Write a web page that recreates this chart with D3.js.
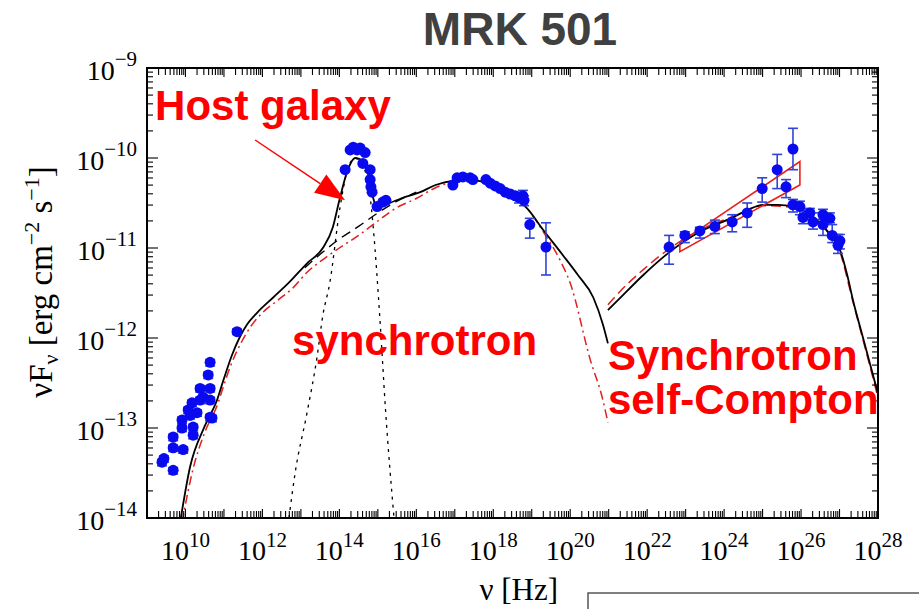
<!DOCTYPE html>
<html><head><meta charset="utf-8">
<script src="https://cdn.jsdelivr.net/npm/d3@7"></script>
<style>body{margin:0;background:#fff}</style>
</head><body>
<svg id="c" width="919" height="609"></svg>
<script>
// ---- data (log10 nu [Hz], log10 nuFnu [erg cm^-2 s^-1]) ----
const xTickExps = [10,12,14,16,18,20,22,24,26,28];
const yTickExps = [-14,-13,-12,-11,-10,-9];

const totalSync = [[9.86,-14.05],[10.12,-13.43],[10.5,-12.98],[10.82,-12.69],[11.0,-12.45],[11.2,-12.2],[11.4,-12.0],[11.6,-11.85],[11.86,-11.72],[12.28,-11.55],[12.7,-11.38],[13.16,-11.17],[13.57,-11.0],[13.83,-10.77],[14.0,-10.47],[14.22,-10.13],[14.41,-10.0],[14.6,-10.03],[14.72,-10.13],[14.87,-10.43],[14.98,-10.56],[15.2,-10.52],[15.6,-10.45],[16.1,-10.38],[16.5,-10.3],[17.0,-10.25],[17.32,-10.24],[17.8,-10.27],[18.4,-10.4],[18.88,-10.56],[19.3,-10.8],[19.81,-11.08],[20.2,-11.3],[20.6,-11.55],[20.85,-11.85],[20.98,-12.06]];
const syncOnly = [[13.1,-11.22],[13.5,-11.07],[14.0,-10.9],[14.5,-10.76],[15.0,-10.61],[15.5,-10.48],[16.0,-10.38]];
const hostGalaxy = [[12.69,-14.0],[12.85,-13.5],[13.16,-12.83],[13.42,-12.21],[13.57,-11.75],[13.75,-11.39],[14.02,-10.54],[14.2,-10.15],[14.4,-10.0],[14.6,-10.08],[14.8,-10.43],[14.88,-10.77],[15.06,-11.83],[15.2,-12.8],[15.42,-14.0]];
const syncAlt = [[9.91,-14.05],[10.2,-13.45],[10.5,-13.05],[10.85,-12.72],[11.0,-12.52],[11.2,-12.28],[11.45,-12.05],[11.7,-11.87],[12.0,-11.72],[12.4,-11.58],[12.8,-11.44],[13.16,-11.27],[13.6,-11.12],[14.0,-11.0],[14.5,-10.86],[15.0,-10.7],[15.5,-10.55],[16.0,-10.45],[16.5,-10.33],[17.0,-10.26],[17.3,-10.24],[17.7,-10.26],[18.2,-10.35],[18.6,-10.46],[18.88,-10.56],[19.3,-10.82],[19.73,-11.13],[20.0,-11.39],[20.52,-12.24],[20.85,-12.69],[20.98,-12.94]];
const sscModel = [[20.98,-11.69],[21.24,-11.58],[21.9,-11.3],[22.54,-11.06],[23.37,-10.82],[24.23,-10.66],[24.6,-10.58],[25.01,-10.52],[25.4,-10.52],[25.79,-10.54],[26.15,-10.6],[26.49,-10.72],[26.8,-10.88],[27.01,-11.02],[27.2,-11.3],[27.35,-11.58],[27.6,-11.98],[27.8,-12.3],[28.0,-12.62]];
const sscAlt = [[20.98,-11.63],[21.3,-11.48],[21.9,-11.24],[22.54,-11.02],[23.37,-10.8],[24.23,-10.65],[25.0,-10.53],[25.79,-10.55],[26.49,-10.73],[27.0,-11.03],[27.35,-11.6],[27.8,-12.33],[28.0,-12.66]];
const bowTie = [[22.85,-10.94],[25.97,-10.04],[25.97,-10.3],[22.85,-11.04]];

// points: [lx, ly, lo, hi]
const radioPts = [[9.39,-13.38,-13.35,-13.42],[9.44,-13.34,-13.31,-13.38],[9.68,-13.47,-13.44,-13.51],[9.68,-13.22,-13.19,-13.26],[9.68,-13.10,-13.07,-13.14],[9.94,-13.24,-13.21,-13.28],[9.91,-13.0,-12.97,-13.04],[9.91,-12.91,-12.88,-12.95],[10.07,-12.8,-12.77,-12.84],[10.2,-12.99,-12.96,-13.03],[10.2,-13.08,-13.05,-13.12],[10.17,-12.72,-12.69,-12.76],[10.3,-12.83,-12.8,-12.87],[10.12,-12.86,-12.83,-12.9],[10.38,-12.56,-12.53,-12.6],[10.38,-12.69,-12.66,-12.73],[10.46,-12.66,-12.63,-12.7],[10.64,-12.69,-12.66,-12.73],[10.64,-12.56,-12.53,-12.6],[10.59,-12.41,-12.38,-12.45],[10.64,-12.27,-12.24,-12.31],[10.64,-12.88,-12.85,-12.92],[10.69,-12.89,-12.86,-12.93],[11.34,-11.93,-11.9,-11.96]];
const hostPts = [[14.15,-10.13],[14.28,-9.91],[14.36,-9.88],[14.46,-9.91],[14.54,-9.89],[14.67,-9.94],[14.61,-10.06],[14.8,-10.13],[14.8,-10.24],[14.82,-10.32],[14.85,-10.38],[14.98,-10.54],[15.13,-10.49],[15.21,-10.47]];
const xrayPts = [[16.95,-10.3],[17.06,-10.22],[17.21,-10.21],[17.4,-10.22],[17.47,-10.24],[17.81,-10.24],[17.92,-10.28],[18.05,-10.31],[18.18,-10.34],[18.31,-10.38],[18.44,-10.4],[18.57,-10.42],[18.67,-10.44,-10.38,-10.5],[18.77,-10.42,-10.36,-10.49],[18.8,-10.47,-10.42,-10.53],[18.95,-10.74,-10.67,-10.89],[19.37,-10.99,-10.72,-11.3]];
const gammaPts = [[22.57,-10.99,-10.86,-11.18],[22.98,-10.86,-10.82,-10.94],[23.37,-10.81,-10.77,-10.89],[23.76,-10.76,-10.69,-10.84],[24.21,-10.71,-10.63,-10.82],[24.6,-10.61,-10.5,-10.77],[24.99,-10.34,-10.22,-10.49],[25.38,-10.13,-9.96,-10.34],[25.79,-9.9,-9.67,-10.13],[25.61,-10.32,-10.24,-10.44],[25.79,-10.52,-10.46,-10.6],[25.97,-10.54,-10.48,-10.63],[26.05,-10.66,-10.58,-10.73],[26.23,-10.61,-10.56,-10.68],[26.31,-10.71,-10.61,-10.79],[26.57,-10.63,-10.57,-10.68],[26.75,-10.67,-10.61,-10.72],[26.57,-10.74,-10.64,-10.86],[26.81,-10.86,-10.74,-10.94],[26.96,-10.97,-10.85,-11.06],[27.01,-10.92,-10.85,-11.01]];

// annotations (data coords)
const labels = [
  {t:"Host galaxy", lx:9.21, ly:-9.58},
  {t:"synchrotron", lx:12.77, ly:-12.19},
  {t:"Synchrotron", lx:20.98, ly:-12.36},
  {t:"self-Compton", lx:20.98, ly:-12.84}
];
const arrowFrom = [11.81,-9.8], arrowTo = [14.15,-10.47];

// ---- drawing ----
const svg = d3.select("#c");
const L=147, R=878, T=68, B=518;
const x = d3.scaleLog().domain([1e9,1e28]).range([L,R]);
const y = d3.scaleLog().domain([1e-14,1e-9]).range([B,T]);
const px = d => x(Math.pow(10,d[0])), py = d => y(Math.pow(10,d[1]));
const line = d3.line().x(px).y(py).curve(d3.curveMonotoneX);

svg.append("defs").append("clipPath").attr("id","clip")
  .append("rect").attr("x",L).attr("y",T).attr("width",R-L).attr("height",B-T);

// title
svg.append("text").attr("x",520).attr("y",45).attr("text-anchor","middle")
  .attr("font-family","Liberation Sans, Arial, sans-serif").attr("font-weight","bold")
  .attr("font-size",46).attr("fill","#404040").text("MRK 501");

const g = svg.append("g").attr("clip-path","url(#clip)");

// model curves
g.append("path").datum(hostGalaxy).attr("d",line).attr("fill","none")
  .attr("stroke","#000").attr("stroke-width",1.3).attr("stroke-dasharray","3,5");
g.append("path").datum(syncOnly).attr("d",line).attr("fill","none")
  .attr("stroke","#000").attr("stroke-width",1.4).attr("stroke-dasharray","10,6");
g.append("path").datum(syncAlt).attr("d",line).attr("fill","none")
  .attr("stroke","#e0201e").attr("stroke-width",1.5).attr("stroke-dasharray","9,4,2,4");
g.append("path").datum(totalSync).attr("d",line).attr("fill","none")
  .attr("stroke","#000").attr("stroke-width",1.8);
g.append("path").datum(sscAlt).attr("d",line).attr("fill","none")
  .attr("stroke","#e0201e").attr("stroke-width",1.5).attr("stroke-dasharray","10,5");
g.append("path").datum(sscModel).attr("d",line).attr("fill","none")
  .attr("stroke","#000").attr("stroke-width",1.8);
g.append("path").datum(bowTie).attr("d",d3.line().x(px).y(py).curve(d3.curveLinearClosed))
  .attr("fill","none").attr("stroke","#e8201c").attr("stroke-width",1.6);

// data points
const allPts = radioPts.concat(hostPts, xrayPts, gammaPts);
const eb = g.append("g").attr("stroke","#2f44d8").attr("stroke-width",1.6);
allPts.filter(d=>d.length>2).forEach(d=>{
  const cx=px(d), y1=y(Math.pow(10,d[2])), y2=y(Math.pow(10,d[3]));
  eb.append("line").attr("x1",cx).attr("x2",cx).attr("y1",y1).attr("y2",y2);
  eb.append("line").attr("x1",cx-5).attr("x2",cx+5).attr("y1",y1).attr("y2",y1);
  eb.append("line").attr("x1",cx-5).attr("x2",cx+5).attr("y1",y2).attr("y2",y2);
});
g.append("g").selectAll("circle").data(allPts).join("circle")
  .attr("cx",px).attr("cy",py).attr("r",5.5).attr("fill","#0a0af0");

// frame
svg.append("rect").attr("x",L).attr("y",T).attr("width",R-L).attr("height",B-T)
  .attr("fill","none").attr("stroke","#000").attr("stroke-width",2);

// ticks
const tk = svg.append("g").attr("stroke","#000").attr("stroke-width",1.1);
for(let e=9;e<28;e++){
  for(let m=1;m<10;m++){
    const v=m*Math.pow(10,e), X=x(v), len = m===1?9:7;
    tk.append("line").attr("x1",X).attr("x2",X).attr("y1",B).attr("y2",B-len);
    tk.append("line").attr("x1",X).attr("x2",X).attr("y1",T).attr("y2",T+len);
  }
}
for(let e=-14;e<-9;e++){
  for(let m=1;m<10;m++){
    const v=m*Math.pow(10,e), Y=y(v), len = m===1?11:6;
    tk.append("line").attr("x1",L).attr("x2",L+len).attr("y1",Y).attr("y2",Y);
    tk.append("line").attr("x1",R).attr("x2",R-len).attr("y1",Y).attr("y2",Y);
  }
}

// tick labels
const serif = "Liberation Serif, Times New Roman, serif";
xTickExps.forEach(e=>{
  const t = svg.append("text").attr("x",x(Math.pow(10,e))).attr("y",560)
    .attr("text-anchor","middle").attr("font-family",serif).attr("font-size",28);
  t.append("tspan").text("10");
  t.append("tspan").attr("dy",-13).attr("font-size",21).text(String(e));
});
yTickExps.forEach(e=>{
  const t = svg.append("text").attr("x",137).attr("y",y(Math.pow(10,e))+12)
    .attr("text-anchor","end").attr("font-family",serif).attr("font-size",28);
  t.append("tspan").text("10");
  t.append("tspan").attr("dy",-14).attr("font-size",21).text("\u2212"+Math.abs(e));
});

// axis titles
svg.append("text").attr("x",558).attr("y",600).attr("text-anchor","end")
  .attr("font-family",serif).attr("font-size",31).text("\u03bd [Hz]");
const yt = svg.append("text").attr("transform","translate(52,282) rotate(-90)")
  .attr("text-anchor","middle").attr("font-family",serif).attr("font-size",33);
yt.append("tspan").text("\u03bdF");
yt.append("tspan").attr("dy",6).attr("font-size",22).text("\u03bd");
yt.append("tspan").attr("dy",-6).text(" [erg cm");
yt.append("tspan").attr("dy",-13).attr("font-size",22).text("\u22122");
yt.append("tspan").attr("dy",13).text(" s");
yt.append("tspan").attr("dy",-13).attr("font-size",22).text("\u22121");
yt.append("tspan").attr("dy",13).text("]");

// red labels
labels.forEach(l=>{
  svg.append("text").attr("x",px([l.lx,l.ly])).attr("y",py([l.lx,l.ly]))
    .attr("font-family","Liberation Sans, Arial, sans-serif").attr("font-weight","bold")
    .attr("font-size",42).attr("fill","#ff0000").text(l.t);
});

// arrow
const ax1=px(arrowFrom), ay1=py(arrowFrom), ax2=px(arrowTo), ay2=py(arrowTo);
const ang=Math.atan2(ay2-ay1, ax2-ax1), hl=30, hw=11;
const bx=ax2-hl*Math.cos(ang), by=ay2-hl*Math.sin(ang);
svg.append("line").attr("x1",ax1).attr("y1",ay1).attr("x2",bx).attr("y2",by)
  .attr("stroke","#ff0000").attr("stroke-width",1.5);
svg.append("path").attr("d",`M${ax2},${ay2}L${bx+hw*Math.sin(ang)},${by-hw*Math.cos(ang)}L${bx-hw*Math.sin(ang)},${by+hw*Math.cos(ang)}Z`)
  .attr("fill","#ff0000");

// partial box at bottom right
svg.append("path").attr("d","M588,612V593H925").attr("fill","none")
  .attr("stroke","#555").attr("stroke-width",1.5);
</script>
</body></html>
